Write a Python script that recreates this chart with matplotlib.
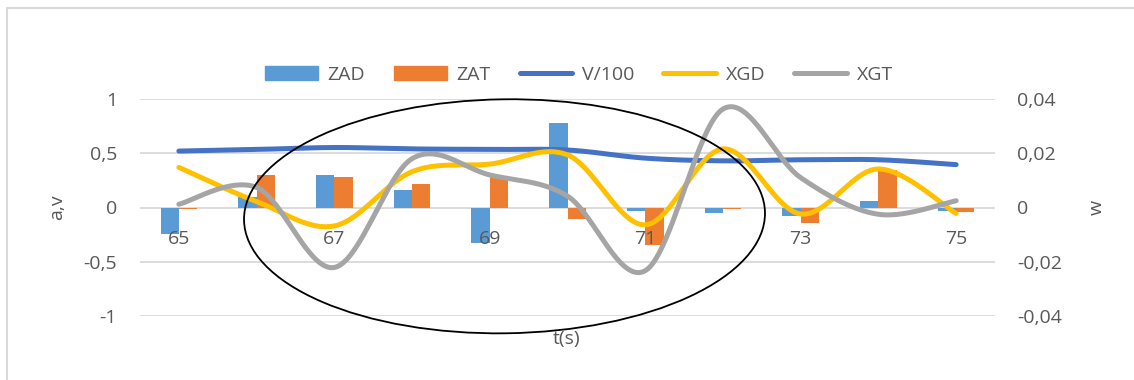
import numpy as np
import matplotlib
matplotlib.use('Agg')
import matplotlib.pyplot as plt
from matplotlib.patches import Ellipse
from matplotlib.lines import Line2D

# ---------------- data ----------------
t = [65, 66, 67, 68, 69, 70, 71, 72, 73, 74, 75]
zad = [-0.24, 0.10, 0.30, 0.16, -0.33, 0.78, -0.03, -0.05, -0.075, 0.06, -0.03]
zat = [-0.01, 0.30, 0.28, 0.215, 0.283, -0.11, -0.35, -0.01, -0.14, 0.35, -0.045]
v100 = [0.52, 0.535, 0.553, 0.54, 0.535, 0.53, 0.455, 0.43, 0.44, 0.44, 0.395]
xgd = [0.0148, 0.0022, -0.0068, 0.0132, 0.016, 0.0194, -0.0064, 0.0216, -0.0024, 0.0142, -0.0022]
xgt = [0.0012, 0.0074, -0.0221, 0.018, 0.012, 0.0042, -0.0233, 0.0363, 0.011, -0.0025, 0.0025]
left_ticks = [-1, -0.5, 0, 0.5, 1]
left_labels = ['-1', '-0,5', '0', '0,5', '1']
right_ticks = [-0.04, -0.02, 0, 0.02, 0.04]
right_labels = ['-0,04', '-0,02', '0', '0,02', '0,04']
series_names = ['ZAD', 'ZAT', 'V/100', 'XGD', 'XGT']

C_ZAD, C_ZAT, C_V, C_XGD, C_XGT = '#5B9BD5', '#ED7D31', '#4472C4', '#FFC000', '#A5A5A5'
TXT = '#595959'
GRID = '#D9D9D9'
FONT = 'Open Sans'
FS = 14

plt.rcParams['font.family'] = [FONT, 'DejaVu Sans']


def smooth(xs, ys, n=40):
    """Excel-like smoothed line (Catmull-Rom as cubic Bezier)."""
    P = np.column_stack([xs, ys]).astype(float)
    pts = []
    m = len(P)
    for i in range(m - 1):
        p0 = P[i - 1] if i > 0 else P[i]
        p1 = P[i]
        p2 = P[i + 1]
        p3 = P[i + 2] if i + 2 < m else P[i + 1]
        b1 = p1 + (p2 - p0) / 6.0
        b2 = p2 - (p3 - p1) / 6.0
        s = np.linspace(0, 1, n, endpoint=(i == m - 2))[:, None]
        seg = ((1 - s) ** 3) * p1 + 3 * ((1 - s) ** 2) * s * b1 + 3 * (1 - s) * s ** 2 * b2 + s ** 3 * p2
        pts.append(seg)
    pts = np.vstack(pts)
    return pts[:, 0], pts[:, 1]


fig = plt.figure(figsize=(11.34, 3.80), dpi=100)
L, R, T, B = 140, 995, 99, 316
ax = fig.add_axes([L / 1134, 1 - B / 380, (R - L) / 1134, (B - T) / 380])
ax2 = ax.twinx()

x = np.arange(len(t))
w = 0.236
ax.bar(x - w / 2, zad, width=w, color=C_ZAD, zorder=2)
ax.bar(x + w / 2, zat, width=w, color=C_ZAT, zorder=2)
sx, sy = smooth(x, v100)
ax.plot(sx, sy, color=C_V, lw=3.6, solid_capstyle='round', zorder=3)

sx, sy = smooth(x, xgd)
ax2.plot(sx, sy, color=C_XGD, lw=3.6, solid_capstyle='round', zorder=3)
sx, sy = smooth(x, xgt)
ax2.plot(sx, sy, color=C_XGT, lw=3.6, solid_capstyle='round', zorder=4)

ax.set_xlim(-0.5, len(t) - 0.5)
ax.set_ylim(-1, 1)
ax2.set_ylim(-0.04, 0.04)

ax.set_yticks(left_ticks)
ax.set_yticklabels(left_labels)
ax2.set_yticks(right_ticks)
ax2.set_yticklabels(right_labels)
ax.yaxis.grid(True, color=GRID, lw=1.3, zorder=0)
ax.set_axisbelow(True)
for a in (ax, ax2):
    for s in a.spines.values():
        s.set_visible(False)
    a.tick_params(axis='y', length=0, labelsize=FS, labelcolor=TXT)
ax.tick_params(axis='y', pad=16.5)
ax2.tick_params(axis='y', pad=16)
ax.set_xticks([])

# category labels placed at the zero line (every other category)
for i, lab in enumerate(t):
    if i % 2 == 0:
        ax.annotate(str(lab), xy=(i, 0), xytext=(0, -32), textcoords='offset pixels',
                    ha='center', va='center', fontsize=FS, color=TXT)

# axis titles
fig.text(57.5 / 1134, 1 - 207 / 380, 'a,v', rotation=90, ha='center', va='center',
         fontsize=FS, color=TXT)
fig.text(1097 / 1134, 1 - 207 / 380, 'w', rotation=90, ha='center', va='center',
         fontsize=FS, color=TXT)
fig.text(567 / 1134, 1 - 339 / 380, 't(s)', ha='center', va='center', fontsize=FS, color=TXT)

# legend
handles = [
    plt.Rectangle((0, 0), 1, 1, color=C_ZAD),
    plt.Rectangle((0, 0), 1, 1, color=C_ZAT),
    Line2D([], [], color=C_V, lw=3.6, solid_capstyle='round'),
    Line2D([], [], color=C_XGD, lw=3.6, solid_capstyle='round'),
    Line2D([], [], color=C_XGT, lw=3.6, solid_capstyle='round'),
]
leg = fig.legend(handles, series_names, loc='center', bbox_to_anchor=(579 / 1134, 1 - 75 / 380),
                 ncol=5, frameon=False, fontsize=FS, labelcolor=TXT, handlelength=2.7,
                 handleheight=0.72, handletextpad=0.5, columnspacing=1.5)

# ellipse annotation (in inches on the figure)
ell = Ellipse((504.5 / 100, (380 - 216.3) / 100), 5.21, 2.34, angle=0.8,
              transform=fig.dpi_scale_trans, fill=False, edgecolor='black', lw=1.3, zorder=10)
fig.add_artist(ell)

# chart frame (light grey, partially cropped)
fig.add_artist(Line2D([7 / 1134, 7 / 1134, 1.01], [-0.01, 1 - 8 / 380, 1 - 8 / 380],
                      transform=fig.transFigure, color=GRID, lw=1.5))

fig.savefig('out.png', dpi=100, facecolor='white')
